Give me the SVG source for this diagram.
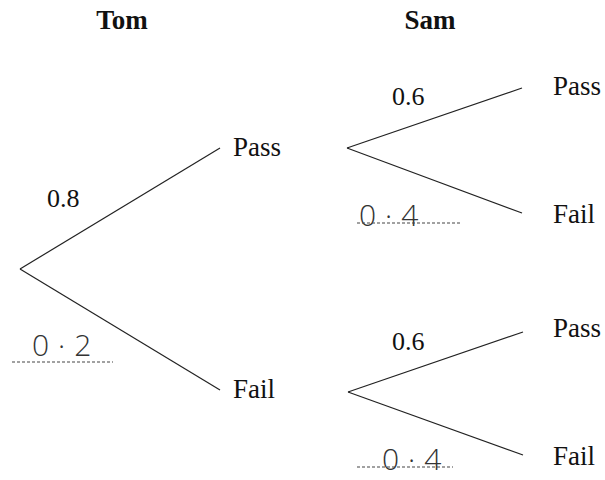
<svg xmlns="http://www.w3.org/2000/svg" width="605" height="480" viewBox="0 0 605 480">
<style>
.lbl{font-family:"Liberation Serif","Times New Roman",serif;font-size:27px;fill:#111}
.hdr{font-family:"Liberation Serif","Times New Roman",serif;font-size:27px;font-weight:bold;fill:#111}
.prob{font-family:"Liberation Serif","Times New Roman",serif;font-size:26px;fill:#111}
.hand{font-family:"Open Sans","DejaVu Sans",sans-serif;font-weight:300;font-size:30px;fill:#333;letter-spacing:9px}
.edge{stroke:#222;stroke-width:1.2;fill:none}
.dot{stroke:#444;stroke-width:1.2;stroke-dasharray:3 2;fill:none}
</style>
<rect width="605" height="480" fill="#fff"/>
<g id="headers">
<text class="hdr" x="122" y="29" text-anchor="middle">Tom</text>
<text class="hdr" x="430" y="29" text-anchor="middle">Sam</text>
</g>
<g id="connectors">
<line class="edge" x1="20" y1="269" x2="220" y2="148"/>
<line class="edge" x1="20" y1="269" x2="220" y2="390"/>
<line class="edge" x1="347" y1="148" x2="522" y2="88"/>
<line class="edge" x1="347" y1="148" x2="522" y2="213"/>
<line class="edge" x1="348" y1="392" x2="523" y2="332"/>
<line class="edge" x1="348" y1="392" x2="523" y2="455"/>
</g>
<g id="tom-pass"><text class="lbl" x="233" y="156">Pass</text></g>
<g id="tom-fail"><text class="lbl" x="233" y="398">Fail</text></g>
<g id="sam-pass-1"><text class="lbl" x="553" y="95">Pass</text></g>
<g id="sam-fail-1"><text class="lbl" x="553" y="223">Fail</text></g>
<g id="sam-pass-2"><text class="lbl" x="553" y="337">Pass</text></g>
<g id="sam-fail-2"><text class="lbl" x="553" y="465">Fail</text></g>
<g id="probabilities">
<text class="prob" x="47" y="207">0.8</text>
<text class="prob" x="392" y="105">0.6</text>
<text class="prob" x="392" y="350">0.6</text>
<text class="hand" x="32" y="356">0·2</text>
<line class="dot" x1="12" y1="362" x2="113" y2="362"/>
<text class="hand" x="359" y="226">0·4</text>
<line class="dot" x1="357" y1="223" x2="460" y2="223"/>
<text class="hand" x="382" y="470">0·4</text>
<line class="dot" x1="357" y1="467" x2="453" y2="467"/>
</g>
</svg>
